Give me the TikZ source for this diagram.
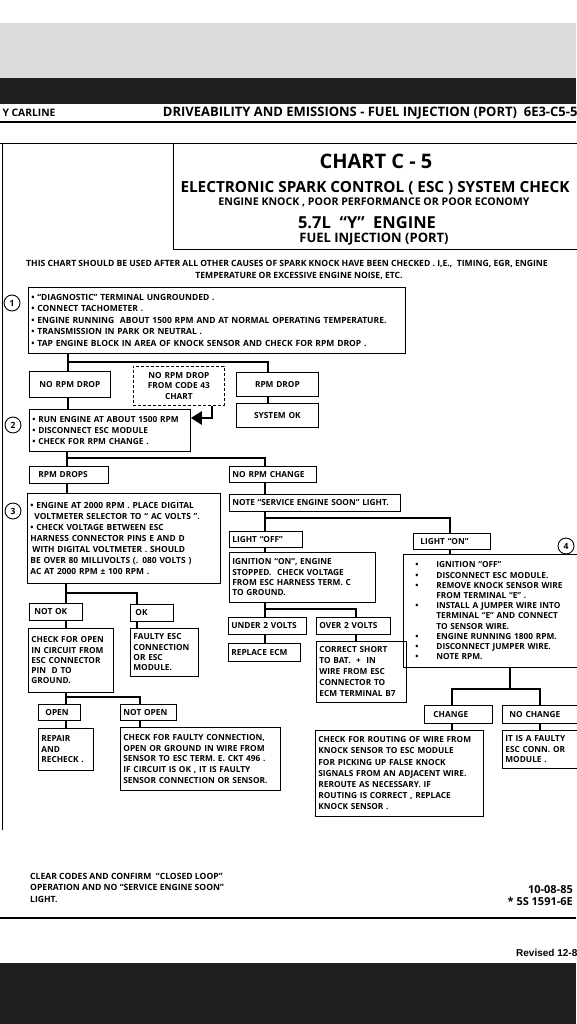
\documentclass[tikz,border=0pt]{standalone}
\usepackage{fontspec}
\setmainfont{Open Sans}
\newfontfamily\helvfont{Liberation Sans}
\usetikzlibrary{arrows.meta,calc}
\hyphenpenalty=10000
\exhyphenpenalty=10000

\tikzset{
  box/.style={draw, line width=0.8pt, anchor=north west, align=left,
    inner xsep=3pt, inner ysep=2pt, font=\bfseries\fontsize{8.3}{11}\selectfont},
  cbox/.style={box, align=center},
  dim/.code 2 args={\pgfmathsetmacro\boxtw{#1-6}%
    \tikzset{text width=\boxtw pt, minimum height=#2pt}},
  conn/.style={line width=2.6pt},
  stepnum/.style={circle, draw, line width=0.9pt, minimum size=16pt,
    inner sep=0pt, font=\bfseries\fontsize{8.5}{8.5}\selectfont},
  headline/.style={inner sep=0pt},
  plain/.style={anchor=north west, align=left, inner sep=0pt,
    font=\bfseries\fontsize{8.6}{11.5}\selectfont}
}

\begin{document}
\begin{tikzpicture}[x=1pt, y=-1pt, every node/.style={font=\bfseries}]
  \useasboundingbox (0,0) rectangle (576,1024);

  % photo bands
  \fill[white] (0,0) rectangle (576,1024);
  \fill[black!14] (0,23) rectangle (576,78);
  \fill[black!88] (0,78) rectangle (576,104);
  \fill[black!88] (0,963) rectangle (576,1024);

  % page header
  \node[anchor=west, font=\bfseries\fontsize{10.3}{11}\selectfont] (carline) at (-1,113) {Y CARLINE};
  \node[anchor=east, font=\bfseries\fontsize{13}{13}\selectfont] (pagehead) at (581,113)
    {DRIVEABILITY AND EMISSIONS - FUEL INJECTION (PORT)\ \ 6E3-C5-5};
  \draw[line width=1.5pt] (0,122) -- (576,122);
  \draw[line width=0.9pt] (0,143) -- (576,143);
  \draw[line width=0.9pt] (2,143) -- (2,830);

  % title block
  \draw[line width=0.9pt] (173,143) rectangle (590,249);
  \node[headline] (chart) at (376,161) {\fontsize{20}{20}\selectfont CHART C - 5};
  \node[headline] (esc) at (375,188) {\fontsize{15.3}{16}\selectfont ELECTRONIC SPARK CONTROL ( ESC ) SYSTEM CHECK};
  \node[headline] (knock) at (374,202) {\fontsize{10.6}{11}\selectfont ENGINE KNOCK , POOR PERFORMANCE OR POOR ECONOMY};
  \node[headline] (engine) at (367,223) {\fontsize{16.5}{17}\selectfont 5.7L\ \ “Y”\ \ ENGINE};
  \node[headline] (port) at (374,239) {\fontsize{13}{13}\selectfont FUEL INJECTION (PORT)};

  \node[align=center, font=\bfseries\fontsize{8.6}{12.5}\selectfont] (intro) at (287,270)
    {THIS CHART SHOULD BE USED AFTER ALL OTHER CAUSES OF SPARK KNOCK HAVE BEEN CHECKED . I,E.,\ \ TIMING, EGR, ENGINE\\
     \hspace*{24pt}TEMPERATURE OR EXCESSIVE ENGINE NOISE, ETC.};

  % step 1
  \node[stepnum] (s1) at (12,303) {1};
  \node[box, dim={377}{66}, font=\bfseries\fontsize{8.5}{11.5}\selectfont] (b1) at (28,287)
    {\textbullet\ “DIAGNOSTIC” TERMINAL UNGROUNDED .\\
     \textbullet\ CONNECT TACHOMETER .\\
     \textbullet\ ENGINE RUNNING\ \ ABOUT 1500 RPM AND AT NORMAL OPERATING TEMPERATURE.\\
     \textbullet\ TRANSMISSION IN PARK OR NEUTRAL .\\
     \textbullet\ TAP ENGINE BLOCK IN AREA OF KNOCK SENSOR AND CHECK FOR RPM DROP .};

  \node[cbox, dim={81}{26}] (nodrop) at (29,371) {NO RPM DROP};
  \node[cbox, dim={91}{39}, dashed, dash pattern=on 3pt off 2pt, font=\bfseries\fontsize{8.3}{10.5}\selectfont]
    (code43) at (133,366) {NO RPM DROP\\FROM CODE 43\\CHART};
  \node[cbox, dim={82}{24}] (rpmdrop) at (236,372) {RPM DROP};
  \node[cbox, dim={82}{24}] (sysok) at (236,403) {SYSTEM OK};

  % step 2
  \node[stepnum] (s2) at (13,425) {2};
  \node[box, dim={161}{42}] (b2) at (29,409)
    {\textbullet\ RUN ENGINE AT ABOUT 1500 RPM\\
     \textbullet\ DISCONNECT ESC MODULE\\
     \textbullet\ CHECK FOR RPM CHANGE .};

  \node[box, dim={79}{17}] (drops) at (29,466) {\hspace*{6pt}RPM DROPS};
  \node[box, dim={87}{16}] (nochange) at (229,466) {NO RPM CHANGE};

  % step 3
  \node[stepnum] (s3) at (13,511) {3};
  \node[box, dim={193}{90}, font=\bfseries\fontsize{8.4}{11}\selectfont] (b3) at (27,493)
    {\textbullet\ ENGINE AT 2000 RPM . PLACE DIGITAL\\
     \hspace*{4pt}VOLTMETER SELECTOR TO “ AC VOLTS ”.\\
     \textbullet\ CHECK VOLTAGE BETWEEN ESC\\
     HARNESS CONNECTOR PINS\ E\ AND\ D\\
     \hspace*{2pt}WITH DIGITAL VOLTMETER . SHOULD\\
     BE OVER 80 MILLIVOLTS (. 080\ VOLTS )\\
     AC\ AT 2000 RPM\ ±\ 100 RPM .};

  \node[box, dim={171}{17}] (note) at (229,494) {NOTE “SERVICE ENGINE SOON” LIGHT.};
  \node[box, dim={73}{16}] (lightoff) at (229,531) {LIGHT “OFF”};
  \node[box, dim={77}{16}] (lighton) at (413,533) {\hspace*{4pt}LIGHT “ON”};

  \node[box, dim={146}{50}, font=\bfseries\fontsize{8.3}{10.3}\selectfont] (ignon) at (229,552)
    {IGNITION “ON”, ENGINE\\
     STOPPED.\ \ CHECK VOLTAGE\\
     FROM ESC HARNESS TERM. C\\
     TO GROUND.};

  % step 4
  \node[stepnum] (s4) at (566,546) {4};
  \node[box, dim={175}{113}, inner xsep=12pt, font=\bfseries\fontsize{8.3}{10.2}\selectfont] (b4) at (403,554)
    {\makebox[21pt][l]{\textbullet}IGNITION “OFF”\\
     \makebox[21pt][l]{\textbullet}DISCONNECT ESC MODULE.\\
     \makebox[21pt][l]{\textbullet}REMOVE KNOCK SENSOR WIRE\\
     \makebox[21pt][l]{}FROM TERMINAL “E” .\\
     \makebox[21pt][l]{\textbullet}INSTALL A JUMPER WIRE INTO\\
     \makebox[21pt][l]{}TERMINAL “E” AND CONNECT\\
     \makebox[21pt][l]{}TO SENSOR WIRE.\\
     \makebox[21pt][l]{\textbullet}ENGINE RUNNING 1800 RPM.\\
     \makebox[21pt][l]{\textbullet}DISCONNECT JUMPER WIRE.\\
     \makebox[21pt][l]{\textbullet}NOTE RPM.};

  % results of step 3
  \node[box, dim={53}{17}] (notok) at (29,603) {\hspace*{2pt}NOT OK};
  \node[box, dim={43}{17}] (ok) at (130,604) {\hspace*{2pt}OK};
  \node[box, dim={85}{64}, font=\bfseries\fontsize{8.3}{10.3}\selectfont] (chkopen) at (28,628)
    {CHECK FOR OPEN\\IN CIRCUIT FROM\\ESC CONNECTOR\\PIN\ \ D\ TO\\GROUND.};
  \node[box, dim={68}{48}, font=\bfseries\fontsize{8.3}{10.3}\selectfont] (faulty) at (130,628)
    {FAULTY ESC\\CONNECTION\\OR ESC\\MODULE.};

  \node[box, dim={78}{17}] (under2) at (228,617) {UNDER 2 VOLTS};
  \node[box, dim={74}{17}] (over2) at (316,617) {OVER 2 VOLTS};
  \node[box, dim={72}{18}] (replace) at (228,643) {REPLACE ECM};
  \node[box, dim={90}{61}, font=\bfseries\fontsize{8.3}{11}\selectfont] (short) at (316,641)
    {CORRECT SHORT\\TO BAT.\ \ +\ \ IN\\WIRE FROM ESC\\CONNECTOR TO\\ECM TERMINAL B7};

  \node[box, dim={42}{16}] (open) at (38,704) {\hspace*{4pt}OPEN};
  \node[box, dim={56}{16}] (notopen) at (120,704) {NOT OPEN};
  \node[box, dim={55}{42}, font=\bfseries\fontsize{8.3}{10.5}\selectfont] (repair) at (38,728)
    {REPAIR\\AND\\RECHECK\ .};
  \node[box, dim={160}{63}, font=\bfseries\fontsize{8.3}{10.8}\selectfont] (chkfaulty) at (120,727)
    {CHECK FOR FAULTY CONNECTION,\\
     OPEN OR GROUND IN WIRE FROM\\
     SENSOR TO ESC TERM. E. CKT 496 .\\
     IF CIRCUIT IS OK , IT IS FAULTY\\
     SENSOR CONNECTION OR SENSOR.};

  \node[box, dim={68}{18}] (change) at (424,705) {\hspace*{6pt}CHANGE};
  \node[box, dim={75}{18}] (nochg) at (502,705) {\hspace*{4pt}NO CHANGE};
  \node[box, dim={168}{86}, font=\bfseries\fontsize{8.3}{11.2}\selectfont] (routing) at (315,730)
    {CHECK FOR ROUTING OF WIRE FROM\\
     KNOCK SENSOR TO ESC MODULE\\
     FOR PICKING UP FALSE KNOCK\\
     SIGNALS FROM AN ADJACENT WIRE.\\
     REROUTE AS NECESSARY. IF\\
     ROUTING IS CORRECT , REPLACE\\
     KNOCK SENSOR .};
  \node[box, dim={75}{38}, font=\bfseries\fontsize{8.3}{10.5}\selectfont] (faultyesc) at (502,730)
    {IT IS A FAULTY\\ESC CONN. OR\\MODULE .};

  % connectors
  \coordinate (j1) at (68,362);
  \coordinate (j1r) at (268,362);
  \draw[conn] (b1.south -| j1) -- (nodrop.north -| j1);
  \draw[conn] (j1) -- (j1r) -- (rpmdrop.north -| j1r);
  \draw[conn] (rpmdrop.south -| j1r) -- (sysok.north -| j1r);
  \draw[conn] (nodrop.south -| j1) -- (b2.north -| j1);
  \coordinate (a43) at (212,418);
  \draw[conn, -{Triangle[length=11pt, width=13pt]}] (code43.south -| a43) |- (b2.east |- a43);

  \coordinate (j2) at (67,458);
  \coordinate (j2r) at (265,458);
  \draw[conn] (b2.south -| j2) -- (drops.north -| j2);
  \draw[conn] (j2) -- (j2r) -- (nochange.north -| j2r);
  \draw[conn] (drops.south -| j2) -- (b3.north -| j2);
  \draw[conn] (nochange.south -| j2r) -- (note.north -| j2r);

  \coordinate (j3) at (265,518);
  \coordinate (j3r) at (450,518);
  \draw[conn] (note.south -| j3) -- (lightoff.north -| j3);
  \draw[conn] (j3) -- (j3r) -- (lighton.north -| j3r);
  \draw[conn] (lightoff.south -| j3) -- (ignon.north -| j3);
  \draw[conn] (lighton.south -| j3r) -- (b4.north -| j3r);

  \coordinate (j4) at (66,593);
  \coordinate (j4r) at (137,593);
  \draw[conn] (b3.south -| j4) -- (notok.north -| j4);
  \draw[conn] (j4) -- (j4r) -- (ok.north -| j4r);
  \draw[conn] (notok.south -| j4) -- (chkopen.north -| j4);
  \draw[conn] (ok.south -| j4r) -- (faulty.north -| j4r);

  \coordinate (j5) at (265,609);
  \coordinate (j5r) at (356,609);
  \draw[conn] (ignon.south -| j5) -- (under2.north -| j5);
  \draw[conn] (j5) -- (j5r) -- (over2.north -| j5r);
  \draw[conn] (under2.south -| j5) -- (replace.north -| j5);
  \draw[conn] (over2.south -| j5r) -- (short.north -| j5r);

  \coordinate (j6) at (66,697);
  \coordinate (j6r) at (140,697);
  \draw[conn] (chkopen.south -| j6) -- (open.north -| j6);
  \draw[conn] (j6) -- (j6r) -- (notopen.north -| j6r);
  \draw[conn] (open.south -| j6) -- (repair.north -| j6);
  \draw[conn] (notopen.south -| j6r) -- (chkfaulty.north -| j6r);

  \coordinate (j7) at (510,689);
  \coordinate (j7l) at (452,689);
  \coordinate (j7r) at (540,689);
  \draw[conn] (b4.south -| j7) -- (j7);
  \draw[conn] (change.north -| j7l) -- (j7l) -- (j7r) -- (nochg.north -| j7r);
  \draw[conn] (change.south -| j7l) -- (routing.north -| j7l);
  \draw[conn] (nochg.south -| j7r) -- (faultyesc.north -| j7r);

  % footer
  \node[plain] (clear) at (30,873)
    {CLEAR CODES AND CONFIRM\ \ “CLOSED LOOP”\\
     OPERATION AND NO “SERVICE ENGINE SOON”\\
     LIGHT.};
  \node[anchor=north east, align=right, inner sep=0pt, font=\bfseries\fontsize{11}{12.5}\selectfont]
    (dates) at (573,885) {10-08-85\\ * 5S 1591-6E};
  \draw[line width=2pt] (0,918) -- (576,918);
  \node[anchor=west, inner sep=0pt, font=\helvfont\bfseries\fontsize{10}{10}\selectfont]
    (revised) at (516,953) {Revised 12-8};
\end{tikzpicture}
\end{document}
